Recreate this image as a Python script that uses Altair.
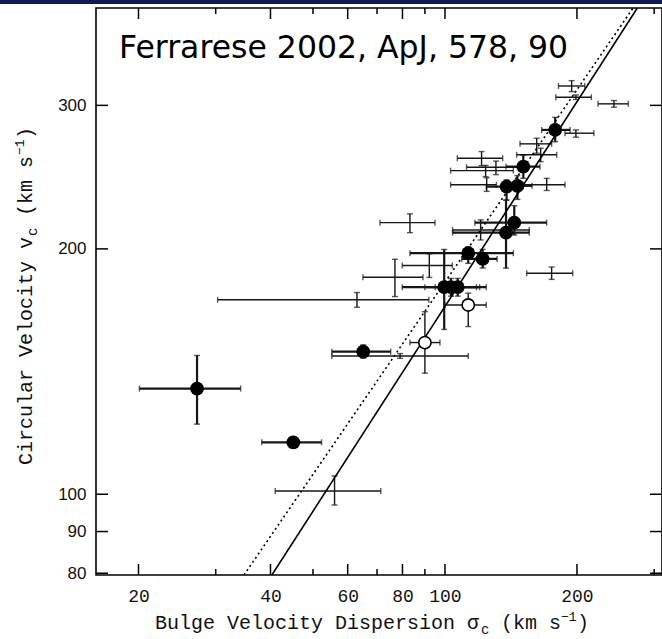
import altair as alt
import pandas as pd

# ---------------- data ----------------
# filled circles: sigma_c, v_c, sigma low/high, v low/high
fill_sig = [178.4, 150.9, 138.2, 146.3, 143.9, 137.8, 113.0, 121.9, 99.6, 103.2, 106.9, 27.2, 65.1, 45.1]
fill_v   = [279.9, 252.3, 238.5, 239.0, 215.4, 209.4, 197.6, 194.4, 179.5, 179.5, 179.5, 134.8, 149.6, 115.8]
fill_slo = [166.2, 137.8, 124.2, 138.0, 117.0, 104.1, 83.2, 109.2, 79.9, 90.0, 95.0, 20.1, 55.2, 38.2]
fill_shi = [192.9, 164.7, 150.8, 158.0, 170.6, 155.7, 143.2, 131.5, 120.0, 118.0, 124.2, 34.2, 75.2, 52.3]
fill_vlo = [270.7, 244.1, 229.6, 230.0, 208.0, 189.4, 192.0, 189.5, 159.3, 175.0, 175.0, 121.9, 146.9, 114.0]
fill_vhi = [290.0, 260.5, 243.1, 246.0, 226.0, 229.6, 201.2, 199.7, 199.7, 184.0, 184.0, 148.0, 152.5, 117.6]

# open circles
open_sig = [113.0, 90.0]
open_v   = [170.7, 153.5]
open_slo = [100.0, 83.2]
open_shi = [124.2, 97.4]
open_vlo = [160.6, 140.8]
open_vhi = [176.5, 167.5]

# error bars only
bar_sig = [194.5, 198.9, 242.9, 198.9, 161.9, 165.3, 121.2, 123.8, 130.7, 124.5, 170.6, 83.2, 120.6, 92.1, 76.9, 63.0, 175.1, 79.0, 56.0]
bar_v   = [316.9, 307.0, 301.3, 277.3, 269.1, 260.9, 258.4, 249.5, 251.9, 239.7, 239.7, 215.4, 211.0, 190.8, 184.6, 173.2, 186.7, 147.8, 100.9]
bar_slo = [181.5, 179.0, 223.4, 187.8, 148.3, 145.7, 106.7, 103.0, 112.0, 103.0, 150.8, 71.1, 104.1, 79.9, 65.0, 30.3, 153.6, 55.2, 41.0]
bar_shi = [208.4, 215.7, 261.9, 218.6, 175.1, 179.8, 135.4, 143.2, 148.3, 131.0, 187.8, 94.9, 155.7, 103.9, 89.1, 91.9, 195.6, 113.0, 71.4]
bar_vlo = [311.9, 305.0, 298.5, 274.2, 262.1, 255.9, 253.0, 245.3, 246.7, 235.3, 235.9, 209.4, 205.1, 184.5, 174.8, 169.6, 183.5, 146.8, 97.0]
bar_vhi = [321.7, 309.0, 304.1, 279.9, 273.4, 265.8, 263.3, 253.2, 256.3, 244.5, 244.1, 220.8, 217.1, 197.2, 194.2, 176.8, 190.0, 148.8, 105.3]

# fit lines (end points)
solid_sig = [40.3, 274.6]
solid_v   = [79.6, 395.0]
dot_sig   = [34.8, 268.5]
dot_v     = [79.6, 395.0]

# ticks
x_major = [20, 40, 60, 80, 100, 200]
x_minor = [30, 50, 70, 90, 300]
y_major = [80, 90, 100, 200, 300]

X_DOMAIN = [16.0, 312.6]
Y_DOMAIN = [79.6, 395.0]

W, H = 566, 567

# ---------------- tables ----------------
def table(sig, v, slo, shi, vlo, vhi, kind):
    return pd.DataFrame({"sig": sig, "v": v, "slo": slo, "shi": shi,
                         "vlo": vlo, "vhi": vhi, "kind": kind})

pts = pd.concat([
    table(fill_sig, fill_v, fill_slo, fill_shi, fill_vlo, fill_vhi, "filled"),
    table(open_sig, open_v, open_slo, open_shi, open_vlo, open_vhi, "open"),
    table(bar_sig, bar_v, bar_slo, bar_shi, bar_vlo, bar_vhi, "bar"),
], ignore_index=True)

xcaps = pd.concat([
    pd.DataFrame({"s": pts["slo"], "v": pts["v"], "kind": pts["kind"]}),
    pd.DataFrame({"s": pts["shi"], "v": pts["v"], "kind": pts["kind"]}),
], ignore_index=True)
ycaps = pd.concat([
    pd.DataFrame({"s": pts["sig"], "v": pts["vlo"], "kind": pts["kind"]}),
    pd.DataFrame({"s": pts["sig"], "v": pts["vhi"], "kind": pts["kind"]}),
], ignore_index=True)

fits = pd.concat([
    pd.DataFrame({"s": solid_sig, "v": solid_v, "fit": "solid"}),
    pd.DataFrame({"s": dot_sig, "v": dot_v, "fit": "dotted"}),
], ignore_index=True)

xt_major = pd.DataFrame({"t": x_major})
xt_minor = pd.DataFrame({"t": x_minor})
yt = pd.DataFrame({"t": y_major})

xscale = alt.Scale(type="log", domain=X_DOMAIN, nice=False, zero=False)
yscale = alt.Scale(type="log", domain=Y_DOMAIN, nice=False, zero=False)

xaxis = alt.Axis(values=x_major, format="d", ticks=False, domain=False, grid=False,
                 labelFont="Liberation Mono", labelFontSize=18, labelPadding=12,
                 labelColor="#111", title=None, labelFlush=False)
yaxis = alt.Axis(values=y_major, format="d", ticks=False, domain=False, grid=False,
                 labelFont="Liberation Sans", labelFontSize=17, labelPadding=10,
                 labelColor="#111", title=None)

def X(f):
    return alt.X(f, type="quantitative", scale=xscale, axis=xaxis)

def Y(f):
    return alt.Y(f, type="quantitative", scale=yscale, axis=yaxis)

base = alt.Chart(pts)

# error bars
filled_w = alt.condition(alt.datum.kind == "filled", alt.value(2.2), alt.value(1.4))
hbars = base.mark_rule(color="#161616").encode(
    x=X("slo"), x2="shi", y=Y("v"), strokeWidth=filled_w)
vbars = base.mark_rule(color="#161616").encode(
    x=X("sig"), y=Y("vlo"), y2="vhi", strokeWidth=filled_w)
xc = alt.Chart(xcaps).mark_tick(orient="vertical", size=6, thickness=1.4, color="#161616").encode(
    x=X("s"), y=Y("v"))
yc = alt.Chart(ycaps).mark_tick(orient="horizontal", size=6, thickness=1.4, color="#161616").encode(
    x=X("s"), y=Y("v"))

solid = alt.Chart(fits).transform_filter(alt.datum.fit == "solid").mark_line(
    color="black", strokeWidth=1.6, clip=True).encode(x=X("s"), y=Y("v"))
dotted = alt.Chart(fits).transform_filter(alt.datum.fit == "dotted").mark_line(
    color="black", strokeWidth=1.6, strokeDash=[2, 3], clip=True).encode(x=X("s"), y=Y("v"))

filled = base.transform_filter(alt.datum.kind == "filled").mark_circle(
    size=190, color="black", opacity=1).encode(x=X("sig"), y=Y("v"))
opened = base.transform_filter(alt.datum.kind == "open").mark_point(
    shape="circle", size=150, filled=True, fill="white", stroke="black",
    strokeWidth=1.6, opacity=1).encode(x=X("sig"), y=Y("v"))

# frame ticks (inward)
def xticks(df, length):
    b = alt.Chart(df).mark_rule(color="black", strokeWidth=1.5).encode(
        x=X("t"), y=alt.value(H), y2=alt.value(H - length))
    t = alt.Chart(df).mark_rule(color="black", strokeWidth=1.5).encode(
        x=X("t"), y=alt.value(0), y2=alt.value(length))
    return [b, t]

lt = alt.Chart(yt).mark_rule(color="black", strokeWidth=1.5).encode(
    y=Y("t"), x=alt.value(0), x2=alt.value(12))
rt = alt.Chart(yt).mark_rule(color="black", strokeWidth=1.5).encode(
    y=Y("t"), x=alt.value(W), x2=alt.value(W - 12))

# texts
one = pd.DataFrame({"a": [0]})

def txt(text, x, y, size, font="Liberation Mono", angle=0, baseline="alphabetic", align="left"):
    kw = dict(text=text, fontSize=size, font=font, align=align, baseline=baseline, color="#111")
    if angle:
        kw["angle"] = angle
    return alt.Chart(one).mark_text(**kw).encode(x=alt.value(x), y=alt.value(y))

xt0 = 59
xty = 621
xtitle = [
    txt("Bulge Velocity Dispersion σ", xt0, xty, 20),
    txt("c", xt0 + 326, xty + 5, 14),
    txt("(km s", xt0 + 346, xty, 20),
    txt("−1", xt0 + 406, xty - 8, 13),
    txt(")", xt0 + 422, xty, 20),
]
yx = -64
yy0 = 457
ytitle = [
    txt("Circular Velocity v", yx, yy0, 20, angle=270),
    txt("c", yx + 5, yy0 - 229, 14, angle=270),
    txt("(km s", yx, yy0 - 249, 20, angle=270),
    txt("−1", yx - 8, yy0 - 310, 13, angle=270),
    txt(")", yx, yy0 - 326, 20, angle=270),
]

headline = alt.Chart(one).mark_text(
    text="Ferrarese 2002, ApJ, 578, 90", font="DejaVu Sans", fontSize=31.5,
    align="left", baseline="alphabetic", color="black").encode(
    x=alt.value(23), y=alt.value(50))

band = alt.Chart(one).mark_rect(color="#0d1b5c").encode(
    x=alt.value(-96), x2=alt.value(W + 10), y=alt.value(-8), y2=alt.value(-4))

chart = alt.layer(
    hbars, vbars, xc, yc, solid, dotted, filled, opened,
    *xticks(xt_major, 11), *xticks(xt_minor, 6), lt, rt, headline, band, *xtitle, *ytitle
).properties(
    width=W, height=H,
    padding={"left": 96, "top": 8, "right": 0, "bottom": 64},
    autosize=alt.AutoSizeParams(type="none"),
    background="white",
).configure_view(stroke="black", strokeWidth=1.6)

chart.save("out.html", embed_options={"renderer": "svg", "actions": False})
